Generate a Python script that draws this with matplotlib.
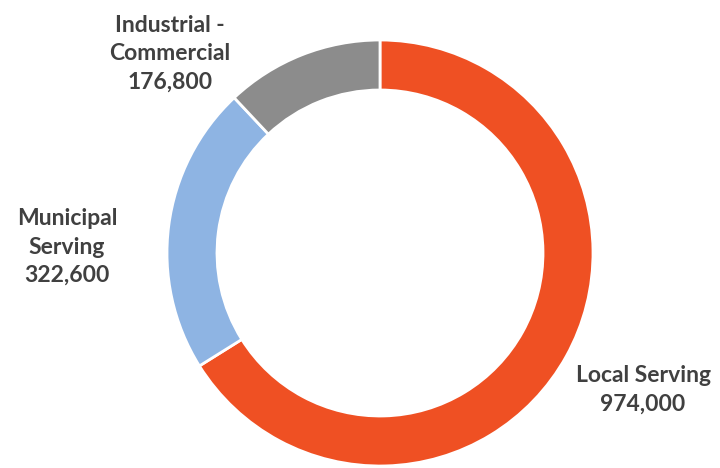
import matplotlib.pyplot as plt

categories = ['Local Serving', 'Municipal\nServing', 'Industrial -\nCommercial']
values = [974000, 322600, 176800]
colors = ['#EF5023', '#8EB4E3', '#8C8C8C']

# label anchor points (image pixels, y measured from top)
label_pos = [(643, 390), (67, 247), (170, 54)]

fig = plt.figure(figsize=(7.2, 4.68), dpi=100)
ax = fig.add_axes([0, 0, 1, 1])

ax.pie(values, colors=colors, startangle=90, counterclock=False,
       center=(380, 468 - 253), radius=213, frame=True,
       wedgeprops=dict(width=50, edgecolor='white', linewidth=2))
ax.set_xlim(0, 720)
ax.set_ylim(0, 468)
ax.set_aspect('equal')
ax.axis('off')

for name, val, (x, y) in zip(categories, values, label_pos):
    ax.text(x, 468 - y, f'{name}\n{val:,}', ha='center', va='center',
            fontsize=16.5, fontweight='bold', color='#404040',
            family='Lato', linespacing=1.45)

fig.savefig('out.png', dpi=100)
